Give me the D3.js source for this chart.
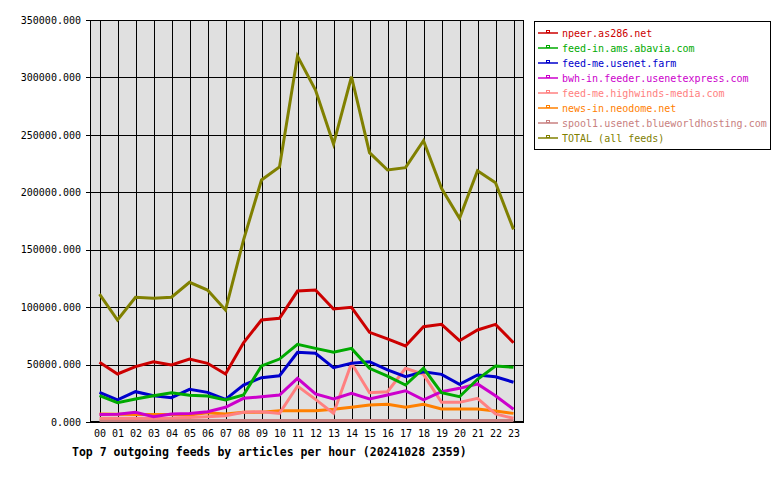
<!DOCTYPE html>
<html>
<head>
<meta charset="utf-8">
<script src="https://cdn.jsdelivr.net/npm/d3@7"></script>
<style>
  body { margin: 0; background: #ffffff; }
  text { font-family: "DejaVu Sans Mono", "Liberation Mono", monospace; }
</style>
</head>
<body>
<div class="container"></div>
<script>
////////////////////////////////////////////////////////////////
// DATA
////////////////////////////////////////////////////////////////
var hours = ["00","01","02","03","04","05","06","07","08","09","10","11",
             "12","13","14","15","16","17","18","19","20","21","22","23"];
var yticks = [0, 50000, 100000, 150000, 200000, 250000, 300000, 350000];

var feedNames = ["npeer.as286.net", "feed-in.ams.abavia.com", "feed-me.usenet.farm",
                 "bwh-in.feeder.usenetexpress.com", "feed-me.highwinds-media.com",
                 "news-in.neodome.net", "spool1.usenet.blueworldhosting.com", "TOTAL (all feeds)"];
var feedColors = ["#cc0000", "#00aa00", "#0000cc", "#cc00cc", "#ff8080", "#ff8000", "#c88080", "#808000"];

var npeer    = [52000,41800,48200,52500,49600,54800,51100,41800,69000,88800,90300,114000,
                114900,98400,99800,78100,72300,66200,83000,85000,70800,80100,85000,69000];
var abavia   = [22900,16800,20000,22900,25500,23200,22600,19200,23500,48800,54800,67600,
                64100,60700,64100,46700,40000,32200,46700,25500,22000,37200,48800,47600];
var farm     = [25800,19200,26400,22900,21200,28400,25800,19700,32200,38600,40300,60700,
                59800,47300,51100,52500,45300,39400,43800,41500,32800,40900,39400,34600];
var bwh      = [6500,6800,8400,4600,7000,7500,9000,12800,20600,22000,23500,38000,
                24400,20000,25000,20000,23500,27200,19200,26400,29300,33100,22900,11100];
var highwinds= [3200,3200,3200,3300,3400,4000,4600,5500,8400,9000,7500,31300,
                19700,7500,51100,25500,26400,46700,41500,17100,17100,20600,7000,3200];
var neodome  = [7000,6700,6600,6500,6500,6200,8100,7000,8400,8400,9800,9800,
                9800,11100,12800,14800,15400,12800,15400,11300,11300,11300,9600,7500];
var spool1   = [1200,1200,1200,1200,1200,1200,1200,1200,1200,1200,1200,1200,
                1200,1200,1200,1200,1200,1200,1200,1200,1200,1200,1200,1200];
var total    = [111400,88800,108600,107700,108600,121600,114900,97500,158400,210700,222000,318600,
                289000,242000,300600,234500,219400,221400,244900,203400,177300,218800,208300,167700];

var series = [npeer, abavia, farm, bwh, highwinds, neodome, spool1, total];

var title = "Top 7 outgoing feeds by articles per hour (20241028 2359)";

////////////////////////////////////////////////////////////////
// CREATE STAGE
////////////////////////////////////////////////////////////////
var W = 780, H = 480;
var plotL = 90, plotR = 524, plotT = 20, plotB = 422;

var svg = d3.select(".container")
  .append("svg")
  .attr("width", W)
  .attr("height", H);

var x = d3.scalePoint()
  .domain(hours)
  .range([99.5, 513.5]);

var y = d3.scaleLinear()
  .domain([0, 350000])
  .range([plotB, plotT]);

////////////////////////////////////////////////////////////////
// PLOT BACKGROUND + GRID
////////////////////////////////////////////////////////////////
svg.append("rect")
  .attr("x", plotL).attr("y", plotT)
  .attr("width", plotR - plotL).attr("height", plotB - plotT)
  .attr("fill", "#e0e0e0");

var yAxis = d3.axisLeft(y)
  .tickValues(yticks)
  .tickSize(-(plotR - plotL))
  .tickPadding(9)
  .tickFormat(function(d) { return d3.format(".3f")(d); });

var gy = svg.append("g")
  .attr("transform", "translate(" + plotL + ",0)")
  .call(yAxis);
gy.select(".domain").remove();
gy.selectAll(".tick line")
  .attr("x1", -4)
  .attr("stroke", "#000")
  .attr("shape-rendering", "crispEdges");
gy.selectAll(".tick text")
  .attr("font-size", "10px")
  .attr("fill", "#000")
  .attr("font-family", "DejaVu Sans Mono");

var xAxis = d3.axisBottom(x)
  .tickSize(-(plotB - plotT))
  .tickPadding(8);

var gx = svg.append("g")
  .attr("transform", "translate(0," + plotB + ")")
  .call(xAxis);
gx.select(".domain").remove();
gx.selectAll(".tick line")
  .attr("stroke", "#000")
  .attr("shape-rendering", "crispEdges");
gx.selectAll(".tick text")
  .attr("font-size", "10px")
  .attr("fill", "#000")
  .attr("font-family", "DejaVu Sans Mono");

svg.append("rect")
  .attr("x", plotL + 0.5).attr("y", plotT + 0.5)
  .attr("width", plotR - plotL - 1).attr("height", plotB - plotT - 1)
  .attr("fill", "none")
  .attr("stroke", "#000")
  .attr("stroke-width", 1);

////////////////////////////////////////////////////////////////
// LINES (drawn bottom of legend first so TOTAL / npeer on top)
////////////////////////////////////////////////////////////////
var line = d3.line()
  .x(function(d, i) { return x(hours[i]); })
  .y(function(d) { return y(d); });

for (var k = series.length - 1; k >= 0; k--) {
  svg.append("path")
    .datum(series[k])
    .attr("d", line)
    .attr("fill", "none")
    .attr("stroke", feedColors[k])
    .attr("stroke-width", 3)
    .attr("stroke-linejoin", "miter");
}

////////////////////////////////////////////////////////////////
// LEGEND
////////////////////////////////////////////////////////////////
var legend = svg.append("g");
legend.append("rect")
  .attr("x", 534.5).attr("y", 21.5)
  .attr("width", 236).attr("height", 128)
  .attr("fill", "#fff")
  .attr("stroke", "#000");

feedNames.forEach(function(name, i) {
  var ly = 33 + i * 15;
  legend.append("line")
    .attr("x1", 538).attr("x2", 558)
    .attr("y1", ly).attr("y2", ly)
    .attr("stroke", feedColors[i])
    .attr("stroke-width", 1.5);
  legend.append("rect")
    .attr("x", 546.5).attr("y", ly - 2.5)
    .attr("width", 3).attr("height", 2)
    .attr("fill", "#fff")
    .attr("stroke", feedColors[i])
    .attr("stroke-width", 1);
  legend.append("text")
    .attr("x", 562).attr("y", ly + 4)
    .attr("font-size", "10px")
    .attr("fill", feedColors[i])
    .text(name);
});

////////////////////////////////////////////////////////////////
// TITLE
////////////////////////////////////////////////////////////////
svg.append("text")
  .attr("x", 72).attr("y", 456)
  .attr("font-size", "11.5px")
  .attr("font-weight", "bold")
  .attr("fill", "#000")
  .text(title);
</script>
</body>
</html>
